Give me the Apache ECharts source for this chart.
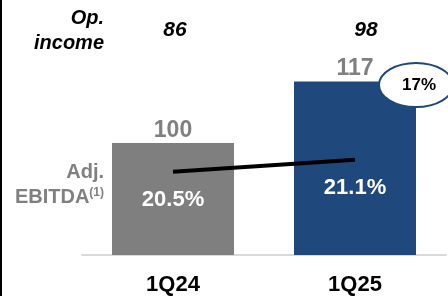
<!DOCTYPE html>
<html>
<head>
    <meta charset="UTF-8">
    <title>Adj. EBITDA</title>
    <style>
        html, body { margin: 0; padding: 0; background: #fff; }
        #container { width: 448px; height: 296px; }
    </style>
</head>
<body>
<div id="container"></div>
<script src="https://cdn.jsdelivr.net/npm/echarts@6/dist/echarts.min.js"></script>
<script>
    // data
    var quarters = ['1Q24', '1Q25'];
    var ebitda = [100, 117];          // bars
    var margin = [20.5, 21.1];        // line (%)
    var opIncome = ['86', '98'];      // top row
    var growth = '17%';
    var barColors = ['#7f7f7f', '#1f497d'];

    var FONT = '"Liberation Sans", Arial, sans-serif';

    var chart = echarts.init(document.getElementById('container'));

    var option = {
        animation: false,
        grid: { left: 82, right: 2, top: 20, bottom: 39 },
        xAxis: {
            type: 'category',
            data: quarters,
            axisLine: { lineStyle: { color: '#d9d9d9', width: 2 } },
            axisTick: { show: false },
            axisLabel: {
                margin: 19,
                color: '#000',
                fontFamily: FONT,
                fontWeight: 'bold',
                fontSize: 22
            }
        },
        yAxis: [
            { type: 'value', min: 69, max: 134, show: false },
            { type: 'value', min: 16.3, max: 28.15, show: false }
        ],
        series: [
            {
                type: 'bar',
                barWidth: 122,
                data: ebitda.map(function (v, i) {
                    return { value: v, itemStyle: { color: barColors[i] } };
                }),
                label: {
                    show: true,
                    position: 'top',
                    distance: 1,
                    color: '#808080',
                    fontFamily: FONT,
                    fontWeight: 'bold',
                    fontSize: 23
                }
            },
            {
                type: 'line',
                yAxisIndex: 1,
                data: margin,
                symbol: 'circle',
                symbolSize: 0,
                showSymbol: true,
                lineStyle: { color: '#000', width: 4 },
                label: {
                    show: true,
                    position: 'bottom',
                    distance: 17,
                    formatter: '{c}%',
                    color: '#fff',
                    fontFamily: FONT,
                    fontWeight: 'bold',
                    fontSize: 22
                },
                z: 5
            }
        ],
        graphic: [
            { type: 'rect', shape: { x: 0, y: 0, width: 2, height: 296 }, style: { fill: '#000' } },
            {
                type: 'text', x: 104, y: 18,
                style: { text: 'Op.', align: 'right', verticalAlign: 'middle', fill: '#000',
                    font: 'italic bold 20px ' + FONT }
            },
            {
                type: 'text', x: 104, y: 43,
                style: { text: 'income', align: 'right', verticalAlign: 'middle', fill: '#000',
                    font: 'italic bold 20px ' + FONT }
            },
            {
                type: 'text', x: 175, y: 30,
                style: { text: opIncome[0], align: 'center', verticalAlign: 'middle', fill: '#000',
                    font: 'italic bold 21px ' + FONT }
            },
            {
                type: 'text', x: 366, y: 30,
                style: { text: opIncome[1], align: 'center', verticalAlign: 'middle', fill: '#000',
                    font: 'italic bold 21px ' + FONT }
            },
            {
                type: 'text', x: 104, y: 172,
                style: { text: 'Adj.', align: 'right', verticalAlign: 'middle', fill: '#808080',
                    font: 'bold 20px ' + FONT }
            },
            {
                type: 'text', x: 104, y: 197,
                style: {
                    text: 'EBITDA{sup|(1)}', align: 'right', verticalAlign: 'middle', fill: '#808080',
                    font: 'bold 20px ' + FONT,
                    rich: {
                        sup: { fontSize: 12, fontWeight: 'bold', fontFamily: FONT, fill: '#808080',
                            verticalAlign: 'top', padding: [0, 0, 8, 0] }
                    }
                }
            },
            {
                type: 'ellipse', shape: { cx: 416, cy: 85, rx: 37, ry: 22 },
                style: { fill: '#fff', stroke: '#1f497d', lineWidth: 2 }, z: 10
            },
            {
                type: 'text', x: 419, y: 85, z: 11,
                style: { text: growth, align: 'center', verticalAlign: 'middle', fill: '#000',
                    font: 'bold 17px ' + FONT }
            }
        ]
    };

    chart.setOption(option);
</script>
</body>
</html>
